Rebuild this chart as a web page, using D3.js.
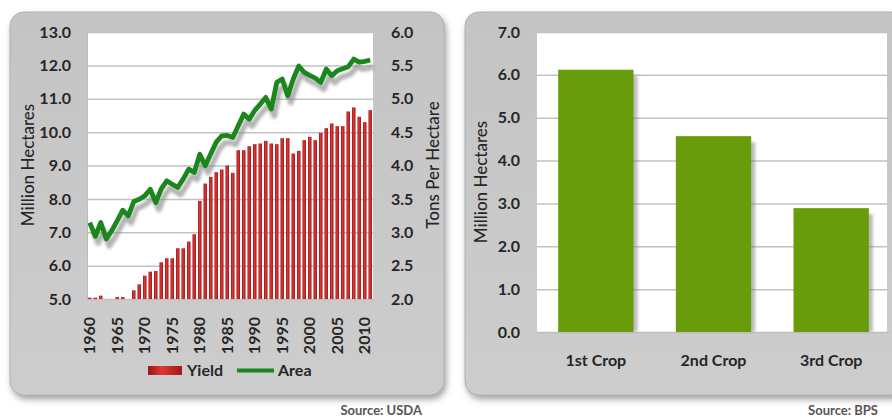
<!DOCTYPE html>
<html><head><meta charset="utf-8">
<script src="https://cdn.jsdelivr.net/npm/d3@7"></script>
<style>
html,body{margin:0;padding:0;background:#fff;}
svg{display:block;}
text{font-family:Lato,"Open Sans",sans-serif;}
</style></head>
<body>
<svg id="c" width="892" height="418"></svg>
<script>
// ---- data ----
const years = d3.range(1960, 2012);
const yieldTons = [2.02,2.02,2.05,1.95,1.95,2.03,2.03,1.98,2.13,2.22,
  2.35,2.41,2.42,2.55,2.61,2.61,2.76,2.76,2.86,2.97,
  3.47,3.73,3.83,3.90,3.94,4.00,3.89,4.23,4.23,4.29,
  4.32,4.33,4.37,4.33,4.32,4.41,4.41,4.18,4.22,4.38,
  4.43,4.38,4.49,4.56,4.63,4.59,4.59,4.81,4.87,4.73,
  4.65,4.83];
const areaMha = [7.29,6.88,7.29,6.80,7.05,7.35,7.66,7.49,7.92,7.99,
  8.09,8.29,7.89,8.30,8.54,8.44,8.34,8.60,8.89,8.79,
  9.34,8.99,9.35,9.70,9.89,9.90,9.84,10.19,10.54,10.39,
  10.65,10.84,11.04,10.69,11.49,11.59,11.09,11.59,11.98,11.79,
  11.70,11.62,11.49,11.89,11.69,11.84,11.90,11.96,12.19,12.10,
  12.12,12.16];
const leftTicks = [5,6,7,8,9,10,11,12,13];
const rightTicks = [2.0,2.5,3.0,3.5,4.0,4.5,5.0,5.5,6.0];
const yearLabels = [1960,1965,1970,1975,1980,1985,1990,1995,2000,2005,2010];
const crops = ["1st Crop","2nd Crop","3rd Crop"];
const cropArea = [6.12,4.57,2.89];
const cropTicks = [0,1,2,3,4,5,6,7];

const svg = d3.select("#c");
const defs = svg.append("defs");
const ps = defs.append("filter").attr("id","pshadow").attr("x","-5%").attr("y","-5%").attr("width","115%").attr("height","115%");
ps.append("feDropShadow").attr("dx",2).attr("dy",4).attr("stdDeviation",3).attr("flood-color","#666").attr("flood-opacity",0.6);
const ls = defs.append("filter").attr("id","lshadow").attr("x","-10%").attr("y","-10%").attr("width","130%").attr("height","130%");
ls.append("feGaussianBlur").attr("stdDeviation",1.8);
const pg = defs.append("linearGradient").attr("id","pgrad").attr("x1",0).attr("y1",0).attr("x2",0).attr("y2",1);
pg.append("stop").attr("offset","0%").attr("stop-color","#c4c4c4");
pg.append("stop").attr("offset","100%").attr("stop-color","#cdcdcd");
const bg = defs.append("linearGradient").attr("id","bgrad").attr("x1",0).attr("y1",0).attr("x2",1).attr("y2",0);
bg.append("stop").attr("offset","0%").attr("stop-color","#9a1414");
bg.append("stop").attr("offset","40%").attr("stop-color","#e03636");
bg.append("stop").attr("offset","100%").attr("stop-color","#a01818");

const tickFont = "bold 16px Lato";
const textCol = "#262626";

// ---------- LEFT PANEL ----------
svg.append("rect").attr("x",10).attr("y",12).attr("width",434).attr("height",383)
  .attr("rx",14).attr("fill","url(#pgrad)").attr("stroke","#b0b0b0").attr("filter","url(#pshadow)");

const L = {x0:87, x1:373, y0:32, y1:299};
const x = d3.scaleBand().domain(years).range([L.x0, L.x1]).paddingInner(0.36).paddingOuter(0.18);
const yL = d3.scaleLinear().domain([5,13]).range([L.y1, L.y0]);
const yR = d3.scaleLinear().domain([2,6]).range([L.y1, L.y0]);

svg.append("rect").attr("x",L.x0).attr("y",L.y0).attr("width",L.x1-L.x0).attr("height",L.y1-L.y0).attr("fill","#fff");

const gGrid = svg.append("g").attr("transform",`translate(${L.x0},0)`)
  .call(d3.axisLeft(yL).tickValues(leftTicks).tickSize(-(L.x1-L.x0)).tickFormat(""));
gGrid.select(".domain").remove();
gGrid.selectAll("line").attr("stroke","#c2c2c2").attr("stroke-width",1.5);

// bars (yield, right axis)
svg.append("g").selectAll("rect").data(years).join("rect")
  .attr("x", d => x(d))
  .attr("width", x.bandwidth())
  .attr("y", (d,i) => yR(Math.max(yieldTons[i],2)))
  .attr("height", (d,i) => yR(2) - yR(Math.max(yieldTons[i],2)))
  .attr("fill","url(#bgrad)");

// line (area, left axis)
const line = d3.line().x((d,i) => x(years[i]) + x.bandwidth()/2).y(d => yL(d));
svg.append("path").datum(areaMha).attr("d",line).attr("fill","none")
  .attr("stroke","#8a8a8a").attr("stroke-opacity",0.65).attr("stroke-width",5.5)
  .attr("stroke-linejoin","round")
  .attr("transform","translate(3,7)").attr("filter","url(#lshadow)");
svg.append("path").datum(areaMha).attr("d",line).attr("fill","none")
  .attr("stroke","#1b861b").attr("stroke-width",4.8).attr("stroke-linejoin","round");

// axes
const axL = svg.append("g").attr("transform",`translate(${L.x0},0)`)
  .call(d3.axisLeft(yL).tickValues(leftTicks).tickSize(0).tickPadding(16).tickFormat(d3.format(".1f")));
axL.select(".domain").attr("stroke","#bdbdbd");
axL.selectAll("text").style("font",tickFont).attr("fill",textCol);

const axR = svg.append("g").attr("transform",`translate(${L.x1},0)`)
  .call(d3.axisRight(yR).tickValues(rightTicks).tickSize(0).tickPadding(18).tickFormat(d3.format(".1f")));
axR.select(".domain").remove();
axR.selectAll("text").style("font",tickFont).attr("fill",textCol);

const axB = svg.append("g").attr("transform",`translate(0,${L.y1})`)
  .call(d3.axisBottom(x).tickValues(yearLabels).tickSize(0).tickPadding(0));
axB.select(".domain").attr("stroke","#bdbdbd");
axB.selectAll("text").style("font","bold 16px Lato").attr("fill",textCol)
  .attr("transform","rotate(-90)").attr("text-anchor","end")
  .attr("x",-18).attr("y",0).attr("dy","0.35em");

svg.append("text").attr("transform","translate(34,165) rotate(-90)").attr("text-anchor","middle")
  .style("font","500 17px Lato").attr("fill",textCol).text("Million Hectares");
svg.append("text").attr("transform","translate(439,165) rotate(-90)").attr("text-anchor","middle")
  .style("font","500 17px Lato").attr("fill",textCol).text("Tons Per Hectare");

// legend
svg.append("rect").attr("x",148).attr("y",366).attr("width",34).attr("height",9).attr("fill","url(#bgrad)");
svg.append("text").attr("x",187).attr("y",376).style("font","bold 16px Lato").attr("fill",textCol).text("Yield");
svg.append("line").attr("x1",237).attr("x2",274).attr("y1",370.5).attr("y2",370.5).attr("stroke","#1b861b").attr("stroke-width",4);
svg.append("text").attr("x",278).attr("y",376).style("font","bold 16px Lato").attr("fill",textCol).text("Area");

svg.append("text").attr("x",422).attr("y",415).attr("text-anchor","end")
  .style("font","bold 13px Lato").attr("fill","#555").text("Source: USDA");

// ---------- RIGHT PANEL ----------
svg.append("rect").attr("x",465).attr("y",12).attr("width",440).attr("height",383)
  .attr("rx",14).attr("fill","url(#pgrad)").attr("stroke","#b0b0b0").attr("filter","url(#pshadow)");

const R = {x0:537, x1:890, y0:32, y1:332};
const xc = d3.scaleBand().domain(crops).range([R.x0, R.x1]).paddingInner(0.36).paddingOuter(0.18);
const yc = d3.scaleLinear().domain([0,7]).range([R.y1, R.y0]);

svg.append("rect").attr("x",R.x0).attr("y",R.y0).attr("width",887-R.x0).attr("height",R.y1-R.y0).attr("fill","#fff");
const gGrid2 = svg.append("g").attr("transform",`translate(${R.x0},0)`)
  .call(d3.axisLeft(yc).tickValues(cropTicks).tickSize(-(887-R.x0)).tickFormat(""));
gGrid2.select(".domain").remove();
gGrid2.selectAll("line").attr("stroke","#c2c2c2").attr("stroke-width",1.5);

// bar shadows
svg.append("g").selectAll("rect").data(crops).join("rect")
  .attr("x", d => xc(d) + 4).attr("width", xc.bandwidth())
  .attr("y", (d,i) => yc(cropArea[i]) + 6).attr("height",(d,i) => yc(0) - yc(cropArea[i]) - 6)
  .attr("fill","#777").attr("opacity",0.5).attr("filter","url(#lshadow)");
svg.append("g").selectAll("rect").data(crops).join("rect")
  .attr("x", d => xc(d)).attr("width", xc.bandwidth())
  .attr("y", (d,i) => yc(cropArea[i])).attr("height",(d,i) => yc(0) - yc(cropArea[i]))
  .attr("fill","#689c0a");

const axC = svg.append("g").attr("transform",`translate(${R.x0},0)`)
  .call(d3.axisLeft(yc).tickValues(cropTicks).tickSize(0).tickPadding(17).tickFormat(d3.format(".1f")));
axC.select(".domain").remove();
axC.selectAll("text").style("font",tickFont).attr("fill",textCol);

const axX = svg.append("g").attr("transform",`translate(0,${R.y1})`)
  .call(d3.axisBottom(xc).tickSize(0).tickPadding(23));
axX.select(".domain").attr("stroke","#bdbdbd");
axX.selectAll("text").style("font","bold 16px Lato").attr("fill",textCol);

svg.append("text").attr("transform","translate(487,182) rotate(-90)").attr("text-anchor","middle")
  .style("font","500 17px Lato").attr("fill",textCol).text("Million Hectares");

svg.append("text").attr("x",878).attr("y",415).attr("text-anchor","end")
  .style("font","bold 13px Lato").attr("fill","#555").text("Source: BPS");
</script>
</body></html>
